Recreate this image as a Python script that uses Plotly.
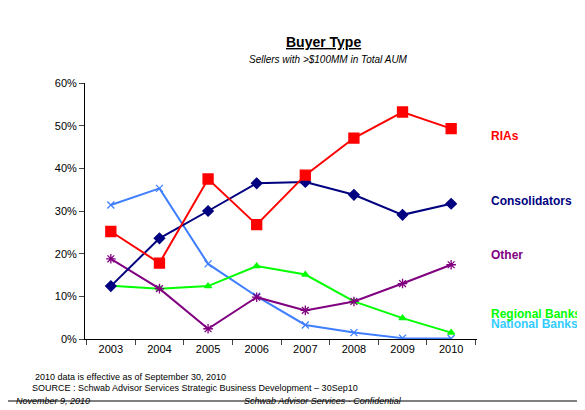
import plotly.graph_objects as go

years = ["2003","2004","2005","2006","2007","2008","2009","2010"]
rias = [25.2,17.8,37.5,26.8,38.4,47.1,53.2,49.3]
consolidators = [12.4,23.6,30.0,36.5,36.8,33.8,29.1,31.7]
national = [31.4,35.3,17.6,10.0,3.3,1.5,0.2,0.1]
regional = [12.5,11.8,12.4,17.1,15.1,8.8,4.9,1.5]
other = [18.8,11.8,2.4,9.8,6.7,8.8,13.0,17.4]

def px(xp, yp):
    return (xp-77)/392, (331-yp)/256

series = [
    ("National Banks", national, "#3f7fff", "x-thin", 7, "#33ccff", 325),
    ("Regional Banks", regional, "#00ff00", "triangle-up", 6, "#00ff00", 315),
    ("Other", other, "#800080", "asterisk", 8, "#800080", 256),
    ("Consolidators", consolidators, "#000080", "diamond", 8, "#000080", 193),
    ("RIAs", rias, "#ff0000", "square", 10, "#ff0000", 119),
]
fig = go.Figure()
for name, vals, col, sym, sz, lc, ly in series:
    fig.add_trace(go.Scatter(x=years, y=[v/100 for v in vals], mode="lines+markers", name=name,
        line=dict(color=col, width=2), marker=dict(symbol=sym, size=sz, color=col, line=dict(color=col, width=1.3))))
    ax, ay = px(481, ly)
    fig.add_annotation(text=f"<b>{name}</b>", xref="paper", yref="paper", x=ax, y=ay,
        xanchor="left", showarrow=False, font=dict(color=lc, size=12, family="Arial"))

fig.update_layout(
    width=585, height=410, margin=dict(l=77, r=116, t=75, b=79),
    paper_bgcolor="white", plot_bgcolor="white", showlegend=False,
    font=dict(family="Arial", size=11, color="black"),
    xaxis=dict(showline=True, linecolor="black", ticks="outside", tickson="boundaries", ticklen=5,
               showgrid=False, automargin=False),
    yaxis=dict(range=[0,0.6], dtick=0.1, tickformat=".0%", showline=True, linecolor="black",
               ticks="outside", ticklen=5, showgrid=False, zeroline=False, automargin=False),
)
texts = [
    ("<b><u>Buyer Type</u></b>", 315, 24, "center", 14),
    ("<i>Sellers with >$100MM in Total AUM</i>", 320, 44, "center", 10),
    ("2010 data is effective as of September 30, 2010", 25, 376, "left", 9),
    ("SOURCE : Schwab Advisor Services Strategic Business Development – 30Sep10", 22, 387, "left", 9),
    ("<i>November 9, 2010</i>", 6, 400, "left", 9),
    ("<i>Schwab Advisor Services - Confidential</i>", 315, 400, "center", 9),
]
for t, xp, yp, anc, fs in texts:
    ax, ay = px(xp, yp)
    fig.add_annotation(text=t, xref="paper", yref="paper", x=ax, y=ay, xanchor=anc, showarrow=False, font=dict(size=fs))
fig.add_shape(type="line", xref="paper", yref="paper", x0=px(0,0)[0], x1=px(585,0)[0],
              y0=px(0,393)[1], y1=px(0,393)[1], line=dict(color="black", width=1))
fig.write_html("out.html")
